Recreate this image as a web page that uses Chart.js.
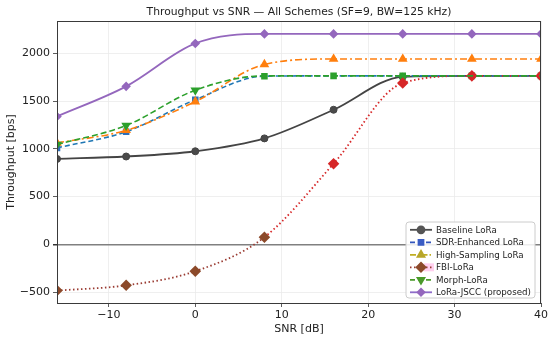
<!DOCTYPE html>
<html>
<head>
<meta charset="utf-8">
<script src="https://cdn.jsdelivr.net/npm/chart.js@4.4.0/dist/chart.umd.min.js"></script>
<style>
    html, body { margin: 0; padding: 0; background: #fff; }
    #wrap { width: 550px; height: 339px; }
</style>
</head>
<body>
<div id="wrap"><canvas id="chart"></canvas></div>
<script>
// ── DATA ──
const snr = [-16, -8, 0, 8, 16, 24, 32, 40];
const baseline = [895, 920, 975, 1110, 1410, 1755, 1765, 1765];
const sdrEnhanced = [1010, 1180, 1515, 1762, 1765, 1765, 1765, 1765];
const highSampling = [1062, 1195, 1495, 1885, 1942, 1942, 1942, 1942];
const fbiLora = [-485, -430, -282, 75, 845, 1690, 1765, 1765];
const morphLora = [1045, 1245, 1615, 1765, 1765, 1765, 1765, 1765];
const loraJscc = [1340, 1655, 2105, 2205, 2205, 2205, 2205, 2205];
const xTicks = [-10, 0, 10, 20, 30, 40];
const yTicks = [-500, 0, 500, 1000, 1500, 2000];
const seriesNames = ['Baseline LoRa', 'SDR-Enhanced LoRa', 'High-Sampling LoRa', 'FBI-LoRa', 'Morph-LoRa', 'LoRa-JSCC (proposed)'];
const chartTitle = 'Throughput vs SNR — All Schemes (SF=9, BW=125 kHz)';

const FONT = 'DejaVu Sans';
const pts = arr => snr.map((x, i) => ({x, y: arr[i]}));

// legend swatches (colours as they appear in the legend box)
const legendStyle = [
    {color: '#4a4a4a', marker: '#555555', dash: [], style: 'circle', r: 3.5, rot: 0},
    {color: '#3355bb', marker: '#3a5cc4', dash: [5, 3], style: 'rect', r: 3.5, rot: 0},
    {color: '#c0ae22', marker: '#b8a62a', dash: [6, 2, 1.5, 2], style: 'triangle', r: 4, rot: 0},
    {color: '#9a3b32', marker: '#8c4a2a', dash: [1.5, 2.5], style: 'rectRot', r: 4.5, rot: 0},
    {color: '#4a9a2a', marker: '#4a9a2a', dash: [5, 3], style: 'triangle', r: 4, rot: 180},
    {color: '#8e6cc9', marker: '#9467bd', dash: [], style: 'rectRot', r: 3.5, rot: 0}
];

// ── title over the axes, frame + legend inside the plot area ──
const framePlugin = {
    id: 'frameLegend',
    afterDraw(chart) {
        const {ctx, chartArea: a} = chart;
        ctx.save();
        ctx.fillStyle = '#222';
        ctx.font = '10.75px "' + FONT + '"';
        ctx.textAlign = 'center';
        ctx.textBaseline = 'middle';
        ctx.fillText(chartTitle, (a.left + a.right) / 2, 12.5);
        ctx.textAlign = 'left';

        ctx.strokeStyle = '#3a3a3a';
        ctx.lineWidth = 1;
        ctx.strokeRect(a.left + 0.5, a.top + 0.5, a.right - a.left - 1, a.bottom - a.top);

        // legend box
        const bx = 406, by = 222, bw = 129, bh = 76;
        ctx.beginPath();
        ctx.roundRect(bx, by, bw, bh, 3);
        ctx.fillStyle = 'rgba(255,255,255,0.85)';
        ctx.fill();
        ctx.strokeStyle = '#cccccc';
        ctx.stroke();

        ctx.font = '8.7px "' + FONT + '"';
        seriesNames.forEach((name, i) => {
            const s = legendStyle[i];
            const y = 229.8 + i * 12.5;
            if (i === 3) {
                ctx.fillStyle = 'rgba(255,170,225,0.55)';
                ctx.fillRect(424, y - 4, 10, 8);
            }
            ctx.setLineDash(s.dash);
            ctx.strokeStyle = s.color;
            ctx.lineWidth = 1.8;
            ctx.beginPath();
            ctx.moveTo(410, y);
            ctx.lineTo(432, y);
            ctx.stroke();
            ctx.setLineDash([]);
            ctx.fillStyle = s.marker;
            ctx.strokeStyle = s.marker;
            Chart.helpers.drawPoint(ctx, {pointStyle: s.style, radius: s.r, rotation: s.rot, borderWidth: 1}, 421, y);
            ctx.fillStyle = '#222';
            ctx.fillText(name, 436, y + 0.5);
        });
        ctx.restore();
    }
};

const fbiColors = snr.map((x, i) => i < 4 ? '#8c4a2a' : '#d62728');
const sdrColors = snr.map((x, i) => i < 3 ? '#2f6fb8' : '#2ca02c');

new Chart(document.getElementById('chart'), {
    type: 'line',
    data: {
        datasets: [
            {
                label: seriesNames[0], data: pts(baseline), order: 6,
                borderColor: '#444444', backgroundColor: '#4a4a4a', borderWidth: 1.8,
                pointStyle: 'circle', pointRadius: 3.5, pointBorderWidth: 1
            },
            {
                label: seriesNames[1], data: pts(sdrEnhanced), order: 5,
                borderColor: '#1f77b4', borderDash: [5, 3], borderWidth: 1.6,
                pointStyle: 'rect', pointRadius: 3.5, pointBackgroundColor: sdrColors, pointBorderColor: sdrColors
            },
            {
                label: seriesNames[2], data: pts(highSampling), order: 4,
                borderColor: '#ff7f0e', borderDash: [7, 3, 2, 3], borderWidth: 1.6,
                pointStyle: 'triangle', pointRadius: 4, pointBackgroundColor: '#ff7f0e', pointBorderColor: '#ff7f0e'
            },
            {
                label: seriesNames[3], data: pts(fbiLora), order: 3,
                borderColor: '#c62d2a', borderDash: [1.5, 2.5], borderWidth: 1.8,
                segment: {borderColor: c => c.p0DataIndex < 3 ? '#9a3b32' : '#d62728'},
                pointStyle: 'rectRot', pointRadius: 4.5, pointBackgroundColor: fbiColors, pointBorderColor: fbiColors
            },
            {
                label: seriesNames[4], data: pts(morphLora), order: 2,
                borderColor: '#2ca02c', borderDash: [6, 3], borderWidth: 1.6,
                pointStyle: 'triangle', rotation: 180, pointRadius: snr.map((x, i) => i < 3 ? 4 : 0),
                pointBackgroundColor: '#2ca02c', pointBorderColor: '#2ca02c'
            },
            {
                label: seriesNames[5], data: pts(loraJscc), order: 1,
                borderColor: '#9467bd', borderWidth: 1.8,
                pointStyle: 'rectRot', pointRadius: 3.5, pointBackgroundColor: '#9467bd', pointBorderColor: '#9467bd'
            }
        ]
    },
    options: {
        responsive: true, maintainAspectRatio: false, animation: false,
        layout: {padding: {left: 0, right: 9, top: 21, bottom: 0}},
        elements: {line: {cubicInterpolationMode: 'monotone', fill: false}},
        plugins: {
            legend: {display: false},
            tooltip: {enabled: false},
            title: {display: false}
        },
        scales: {
            x: {
                type: 'linear', min: -16, max: 40,
                afterBuildTicks: s => { s.ticks = xTicks.map(v => ({value: v})); },
                afterFit: s => { s.height = 36; },
                ticks: {color: '#222', font: {family: FONT, size: 11}, padding: 2, callback: v => v < 0 ? '−' + Math.abs(v) : v},
                grid: {color: '#ebebeb', lineWidth: 0.8, tickColor: '#333', tickLength: 4},
                border: {color: '#3a3a3a'},
                title: {display: true, text: 'SNR [dB]', color: '#222', font: {family: FONT, size: 11}, padding: {top: 0, bottom: 3}}
            },
            y: {
                type: 'linear', min: -615, max: 2340,
                afterBuildTicks: s => { s.ticks = yTicks.map(v => ({value: v})); },
                afterFit: s => { s.width = 57; },
                ticks: {color: '#222', font: {family: FONT, size: 11}, padding: 3, callback: v => v < 0 ? '−' + Math.abs(v) : v},
                grid: {
                    color: c => c.tick && c.tick.value === 0 ? '#808080' : '#ebebeb',
                    lineWidth: c => c.tick && c.tick.value === 0 ? 1.5 : 0.8,
                    tickColor: '#333', tickLength: 4
                },
                border: {color: '#3a3a3a'},
                title: {display: true, text: 'Throughput [bps]', color: '#222', font: {family: FONT, size: 11}, padding: {top: 5, bottom: 0}}
            }
        }
    },
    plugins: [framePlugin]
});
</script>
</body>
</html>
